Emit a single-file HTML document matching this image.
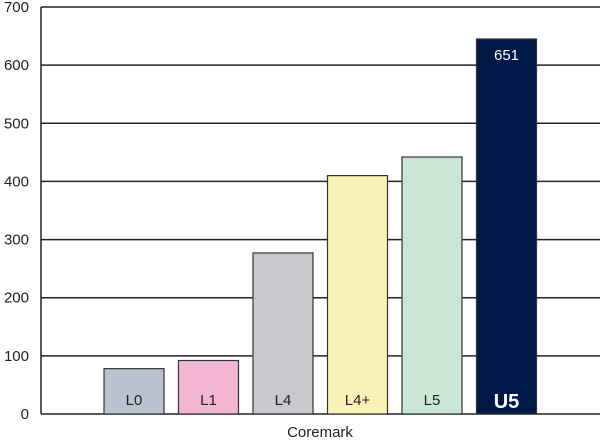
<!DOCTYPE html>
<html><head><style>
body{margin:0;background:#fff;width:600px;height:441px;overflow:hidden;font-family:"Liberation Sans",Arial,sans-serif}
</style></head><body>
<svg id="chart" width="600" height="441" xmlns="http://www.w3.org/2000/svg"></svg>
<script>
const categories=["L0","L1","L4","L4+","L5","U5"];
const values=[78,92,277,410,442,645];
const ticks=[0,100,200,300,400,500,600,700];
const colors=["#b9c3cd","#f2b6d2","#c8c9cd","#fbf4b8","#cce6d6","#001848"];
const valueLabel="651";
const svg=document.getElementById('chart');
const NS="http://www.w3.org/2000/svg";
const y0=414,y1=7,x0=41,x1=600;
const y=v=>y0-(v/700)*(y0-y1);
const slotW=74.5,barW=60,firstX=104;
const x=i=>firstX+i*slotW;
function mk(t,a){const e=document.createElementNS(NS,t);for(const k in a)e.setAttribute(k,a[k]);svg.appendChild(e);return e;}
ticks.forEach(t=>{
  const l=mk('line',{x1:x0,x2:x1,y1:y(t),y2:y(t),stroke:'#222','stroke-width':1.5});
  
  
  const tx=mk('text',{x:29,y:y(t)+5,'text-anchor':'end','font-size':15,fill:'#222'});
  tx.textContent=t;
  
  
});
const ax=mk('line',{x1:x0,x2:x0,y1:y1,y2:y0,stroke:'#222','stroke-width':1.5});


categories.forEach((c,i)=>{
  const r=mk('rect',{x:x(i),y:y(values[i]),width:barW,height:y0-y(values[i]),fill:colors[i],stroke:'#333','stroke-width':1.2});
  
  
  const last=i===categories.length-1;
  const t=mk('text',{x:x(i)+barW/2,y:last?408:405,'text-anchor':'middle','font-size':last?20:15,'font-weight':last?'bold':'normal',fill:last?'#fff':'#222'});
  t.textContent=c;
  
  
});
const li=categories.length-1;
const vt=mk('text',{x:x(li)+barW/2,y:y(values[li])+21,'text-anchor':'middle','font-size':15,fill:'#fff'});
vt.textContent=valueLabel;


const xt=mk('text',{x:320,y:437,'text-anchor':'middle','font-size':15,fill:'#222'});
xt.textContent='Coremark';


</script>
</body></html>
